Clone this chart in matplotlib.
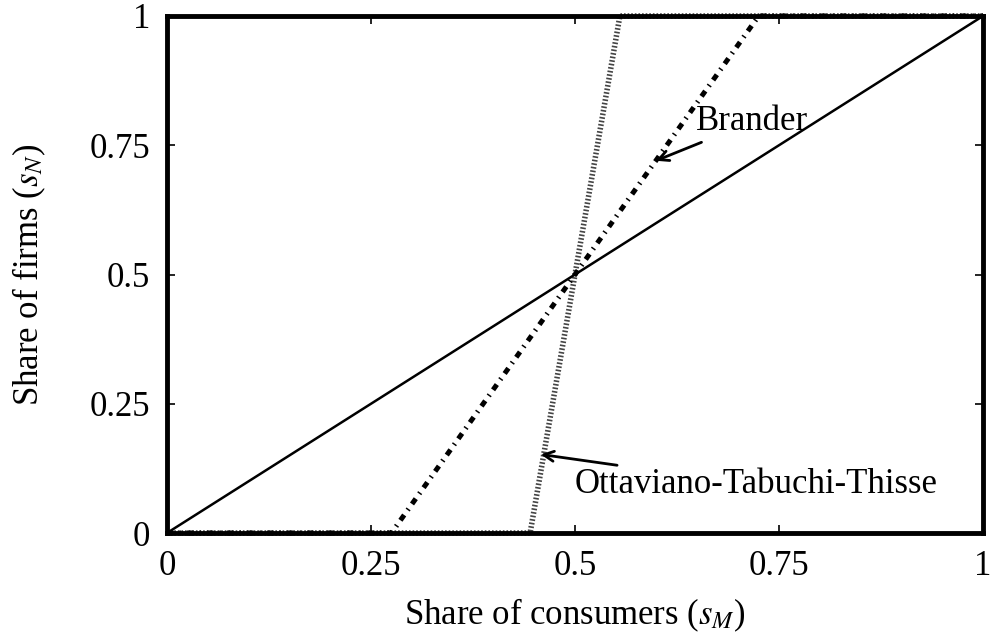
import matplotlib
matplotlib.use("Agg")
import matplotlib.pyplot as plt
import numpy as np

# share of consumers, breakpoints of each curve (x, y)
diag_x = [0, 1]
diag_y = [0, 1]
brander_x = [0, 0.275, 0.725, 1]
brander_y = [0, 0, 1, 1]
ott_x = [0, 0.445, 0.555, 1]
ott_y = [0, 0, 1, 1]
ticks = [0, 0.25, 0.5, 0.75, 1]
tick_labels = ["0", "0.25", "0.5", "0.75", "1"]


def main():
    plt.rcParams['font.family'] = ['Liberation Serif', 'DejaVu Serif']
    plt.rcParams['mathtext.fontset'] = 'stix'
    fig = plt.figure(figsize=(9.92, 6.33), dpi=100)
    ax = fig.add_axes([167 / 992, 100 / 633, 816 / 992, 517 / 633])

    ax.plot(diag_x, diag_y, color='black', lw=1.8, zorder=3)
    ax.plot(brander_x, brander_y, color='black', lw=3.6,
            linestyle=(0, (1.3, 1.2, 0.3, 1.2)), zorder=3, clip_on=False)
    ax.plot(ott_x, ott_y, color='#444444', lw=4.0,
            linestyle=(0, (0.3, 0.35)), zorder=2, clip_on=False)

    ax.annotate("Brander", xy=(0.599, 0.72), xytext=(0.648, 0.795),
                fontsize=25, va='center', ha='left',
                arrowprops=dict(arrowstyle='->', color='black', lw=2,
                                shrinkA=2, shrinkB=0, mutation_scale=18))
    ax.annotate("Ottaviano-Tabuchi-Thisse", xy=(0.458, 0.152),
                xytext=(0.499, 0.093), fontsize=25, va='center', ha='left',
                arrowprops=dict(arrowstyle='->', color='black', lw=2,
                                shrinkA=2, shrinkB=0, mutation_scale=18))

    ax.set_xlim(0, 1)
    ax.set_ylim(0, 1)
    ax.set_xticks(ticks)
    ax.set_xticklabels(tick_labels)
    ax.set_yticks(ticks)
    ax.set_yticklabels(tick_labels)
    ax.tick_params(direction='in', length=6, width=1.2, labelsize=25,
                   top=True, right=True, pad=12)
    for s in ax.spines.values():
        s.set_linewidth(3.5)
        s.set_zorder(4)

    ax.set_xlabel("Share of consumers ($s_M$)", fontsize=25, labelpad=10)
    ax.set_ylabel("Share of firms ($s_N$)", fontsize=25, labelpad=30)

    fig.savefig("out.png", dpi=100)


if __name__ == "__main__":
    main()
